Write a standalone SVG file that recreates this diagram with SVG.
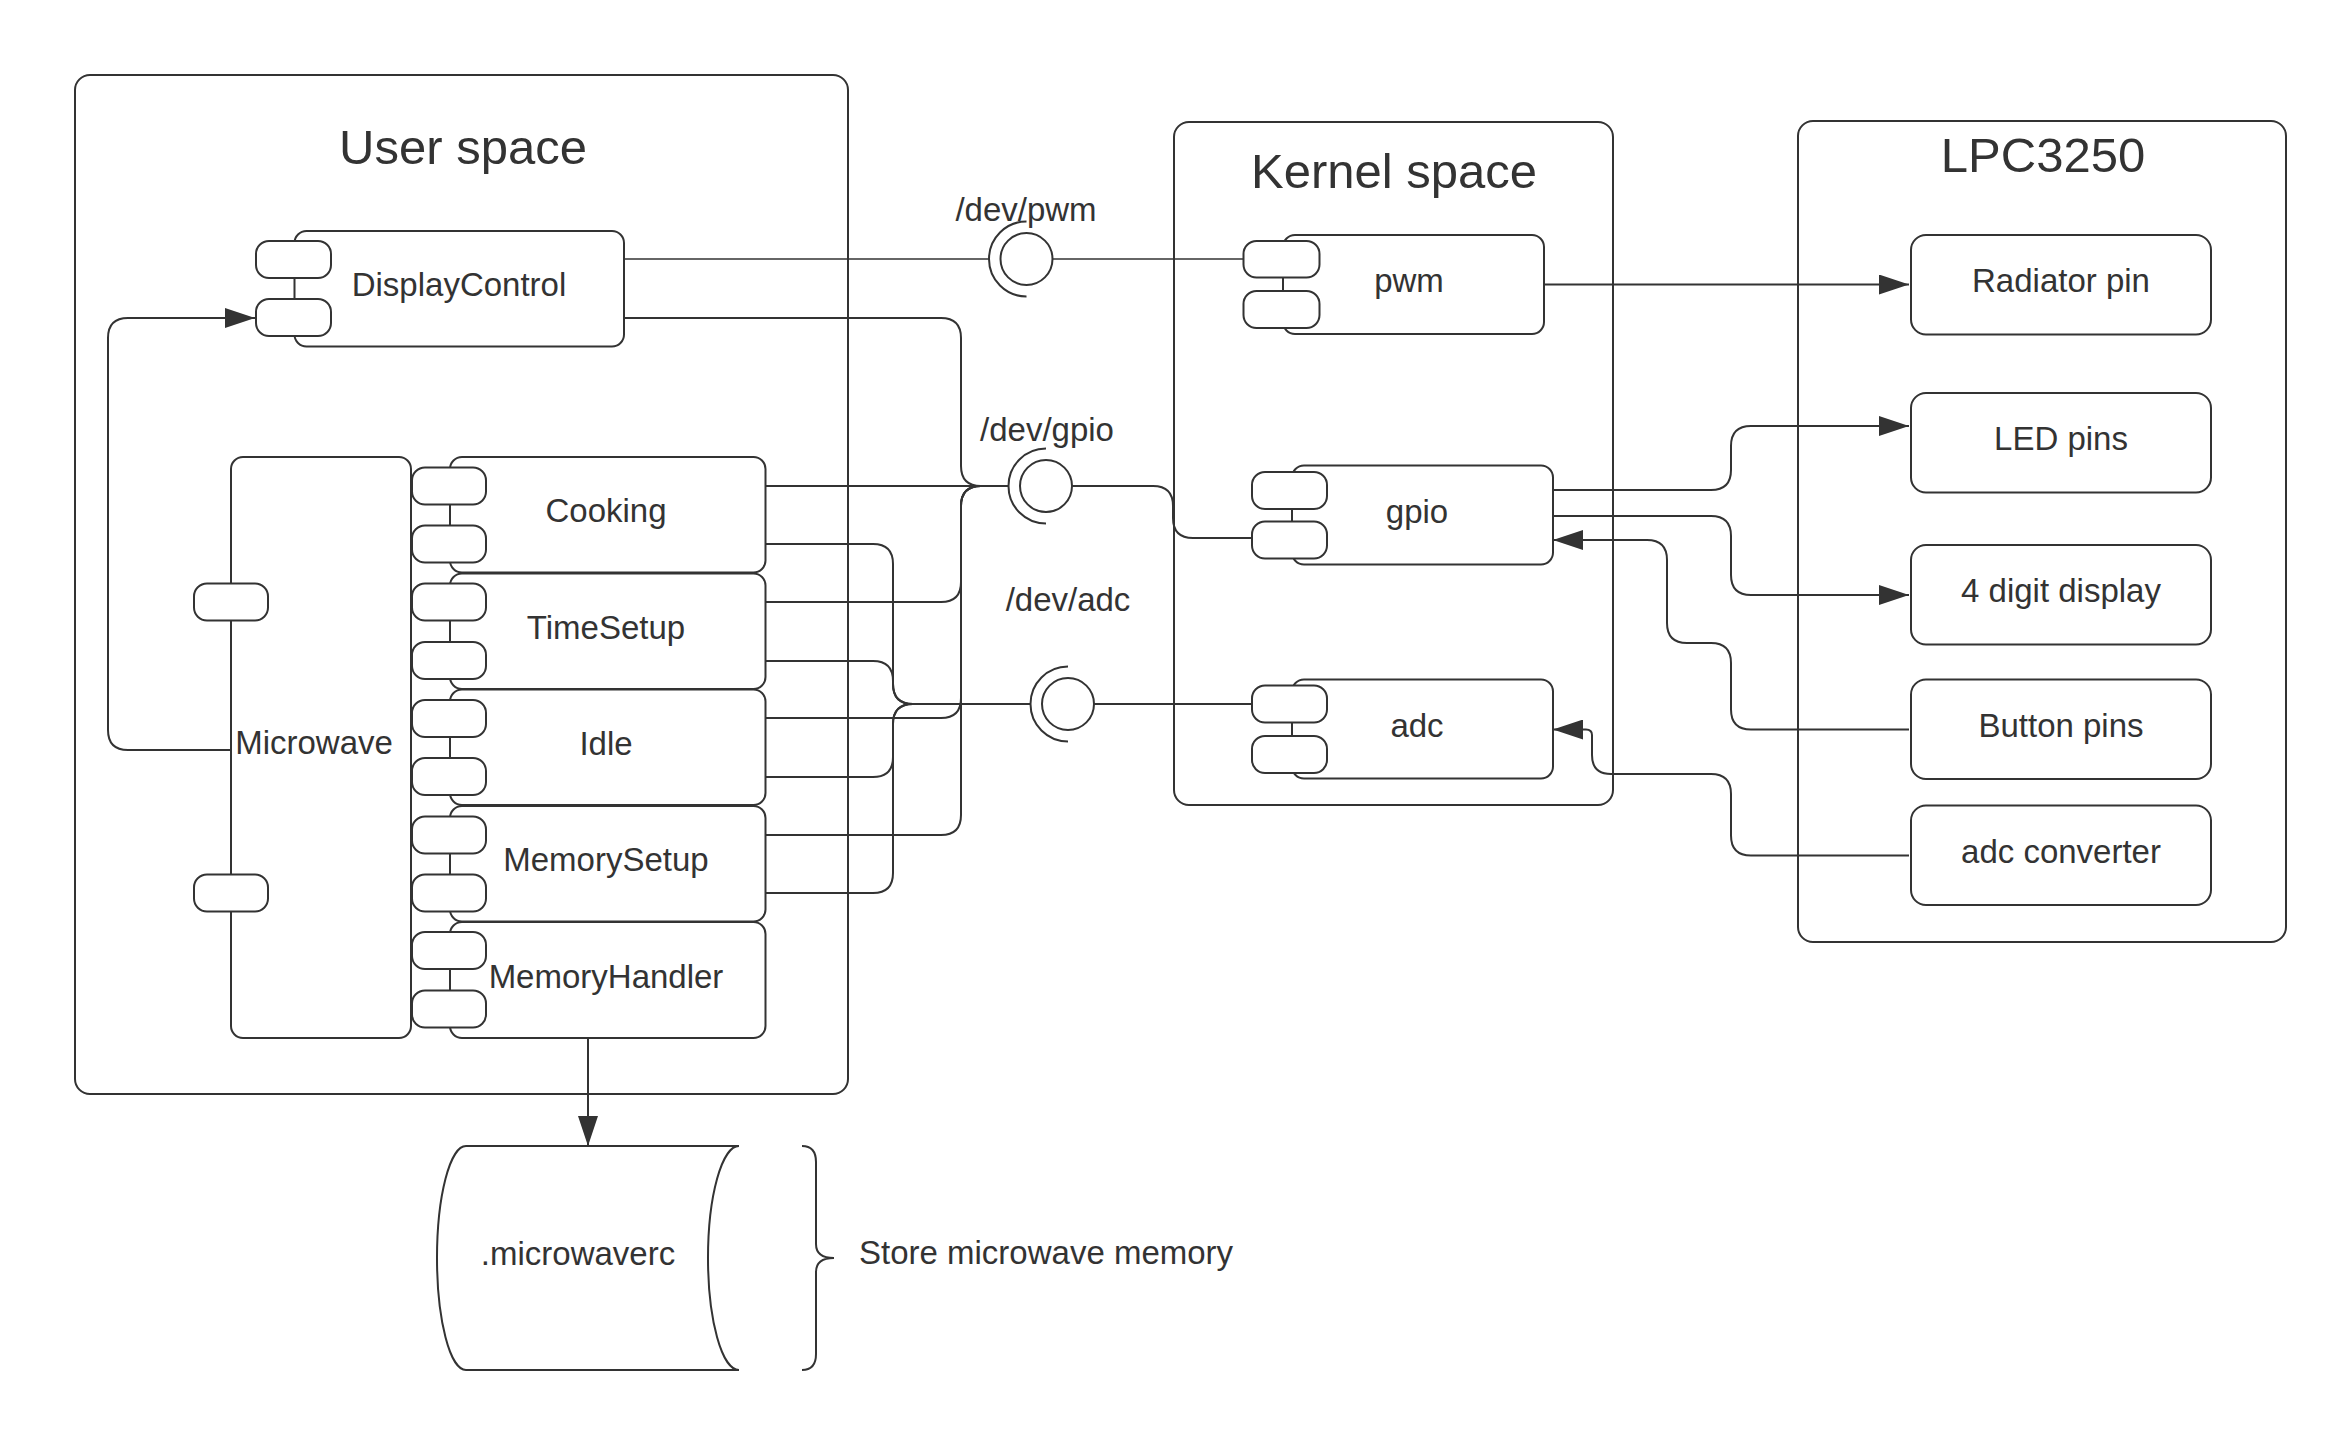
<svg xmlns="http://www.w3.org/2000/svg" width="2341" height="1446" viewBox="0 0 2341 1446">
<defs>
<style>
.box{fill:#fff;stroke:#333;stroke-width:2}
.cont{fill:none;stroke:#333;stroke-width:2}
.port{fill:#fff;stroke:#333;stroke-width:2}
.t{font-family:"Liberation Sans",Arial,sans-serif;font-size:33px;fill:#333;text-anchor:middle}
.title{font-family:"Liberation Sans",Arial,sans-serif;font-size:49px;fill:#333;text-anchor:middle}
.c{fill:none;stroke:#333;stroke-width:2}
.thin{fill:none;stroke:#333;stroke-width:1.5}
.arr{marker-end:url(#ah)}
</style>
<marker id="ah" markerUnits="userSpaceOnUse" markerWidth="30" markerHeight="20" viewBox="0 0 30 20" refX="30" refY="10" orient="auto">
<path d="M0,0 L30,10 L0,20 z" fill="#333"/>
</marker>
</defs>
<rect width="2341" height="1446" fill="#fff"/>

<!-- containers -->
<g id="user-space">
<rect class="cont" x="75" y="75" width="773" height="1019" rx="15"/>
<text class="title" x="463" y="164">User space</text>
</g>
<g id="kernel-space">
<rect class="cont" x="1174" y="122" width="439" height="683" rx="15"/>
<text class="title" x="1394" y="188">Kernel space</text>
</g>
<g id="lpc3250">
<rect class="cont" x="1798" y="121" width="488" height="821" rx="15"/>
<text class="title" x="2043" y="172">LPC3250</text>
</g>

<!-- connectors -->
<g id="connectors">
<path class="thin" d="M624,259 H989"/>
<path class="thin" d="M1053,259 H1243"/>
<path class="c" d="M624,318 H941 Q961,318 961,338 V466 Q961,486 981,486 H1008"/>
<path class="c" d="M766,486 H1008"/>
<path class="c" d="M766,602 H941 Q961,602 961,582 V506 Q961,486 981,486 H1008"/>
<path class="c" d="M766,718 H941 Q961,718 961,698 V506 Q961,486 981,486 H1008"/>
<path class="c" d="M766,835 H941 Q961,835 961,815 V506 Q961,486 981,486 H1008"/>
<path class="c" d="M766,544 H873 Q893,544 893,564 V684 Q893,704 913,704 H1030"/>
<path class="c" d="M766,661 H873 Q893,661 893,681 V684 Q893,704 913,704 H1030"/>
<path class="c" d="M766,777 H873 Q893,777 893,757 V724 Q893,704 913,704 H1030"/>
<path class="c" d="M766,893 H873 Q893,893 893,873 V724 Q893,704 913,704 H1030"/>
<path class="c" d="M1072,486 H1153 Q1173,486 1173,506 V518 Q1173,538 1193,538 H1252"/>
<path class="c" d="M1094,704 H1252"/>
<path class="c arr" d="M1544,284.5 H1909"/>
<path class="c arr" d="M1553,490 H1711 Q1731,490 1731,470 V446 Q1731,426 1751,426 H1909"/>
<path class="c arr" d="M1553,516 H1711 Q1731,516 1731,536 V575 Q1731,595 1751,595 H1909"/>
<path class="c arr" d="M1909,729.5 H1751 Q1731,729.5 1731,709.5 V663 Q1731,643 1711,643 H1687 Q1667,643 1667,623 V560 Q1667,540 1647,540 H1553"/>
<path class="c arr" d="M1909,855.5 H1751 Q1731,855.5 1731,835.5 V794 Q1731,774 1711,774 H1611 Q1592,774 1592,755 V735 Q1592,729.5 1586,729.5 H1553"/>
<path class="c arr" d="M231,750 H128 Q108,750 108,730 V338 Q108,318 128,318 H255"/>
<path class="c arr" d="M588,1038 V1146"/>
</g>

<!-- sockets -->
<g id="dev-pwm">
<circle class="c" cx="1026.5" cy="259" r="26"/>
<path class="c" d="M1026.5,221.5 A37.5,37.5 0 0 0 1026.5,296.5"/>
<text class="t" x="1026" y="221">/dev/pwm</text>
</g>
<g id="dev-gpio">
<circle class="c" cx="1046" cy="486" r="26"/>
<path class="c" d="M1046,448.5 A37.5,37.5 0 0 0 1046,523.5"/>
<text class="t" x="1047" y="441">/dev/gpio</text>
</g>
<g id="dev-adc">
<circle class="c" cx="1068" cy="704" r="26"/>
<path class="c" d="M1068,666.5 A37.5,37.5 0 0 0 1068,741.5"/>
<text class="t" x="1068" y="611">/dev/adc</text>
</g>

<!-- user space nodes -->
<g id="displaycontrol">
<rect class="box" x="294.5" y="231" width="329.5" height="115.5" rx="12"/>
<rect class="port" x="256" y="241" width="75" height="37" rx="13"/>
<rect class="port" x="256" y="299" width="75" height="37" rx="13"/>
<text class="t" x="459" y="296">DisplayControl</text>
</g>
<g id="microwave">
<rect class="box" x="231" y="457" width="180" height="581" rx="12"/>
<rect class="port" x="194" y="583.5" width="74" height="37" rx="13"/>
<rect class="port" x="194" y="874.5" width="74" height="37" rx="13"/>
<text class="t" x="314" y="754">Microwave</text>
</g>
<g id="cooking">
<rect class="box" x="450" y="457" width="315.5" height="115.5" rx="12"/>
<rect class="port" x="412" y="467.5" width="74" height="37" rx="13"/>
<rect class="port" x="412" y="525.5" width="74" height="37" rx="13"/>
<text class="t" x="606" y="522">Cooking</text>
</g>
<g id="timesetup">
<rect class="box" x="450" y="573.5" width="315.5" height="115.5" rx="12"/>
<rect class="port" x="412" y="583.5" width="74" height="37" rx="13"/>
<rect class="port" x="412" y="642" width="74" height="37" rx="13"/>
<text class="t" x="606" y="638.5">TimeSetup</text>
</g>
<g id="idle">
<rect class="box" x="450" y="689.5" width="315.5" height="115.5" rx="12"/>
<rect class="port" x="412" y="700" width="74" height="37" rx="13"/>
<rect class="port" x="412" y="758" width="74" height="37" rx="13"/>
<text class="t" x="606" y="754.5">Idle</text>
</g>
<g id="memorysetup">
<rect class="box" x="450" y="806" width="315.5" height="115.5" rx="12"/>
<rect class="port" x="412" y="816.5" width="74" height="37" rx="13"/>
<rect class="port" x="412" y="874.5" width="74" height="37" rx="13"/>
<text class="t" x="606" y="871">MemorySetup</text>
</g>
<g id="memoryhandler">
<rect class="box" x="450" y="922" width="315.5" height="116" rx="12"/>
<rect class="port" x="412" y="932" width="74" height="37" rx="13"/>
<rect class="port" x="412" y="990.5" width="74" height="37" rx="13"/>
<text class="t" x="606" y="987.5">MemoryHandler</text>
</g>

<!-- kernel nodes -->
<g id="pwm">
<rect class="box" x="1283" y="235" width="261" height="99" rx="12"/>
<rect class="port" x="1243.5" y="241" width="76" height="36.5" rx="13"/>
<rect class="port" x="1243.5" y="291" width="76" height="37" rx="13"/>
<text class="t" x="1409" y="292">pwm</text>
</g>
<g id="gpio">
<rect class="box" x="1292" y="465.5" width="261" height="99" rx="12"/>
<rect class="port" x="1252" y="472" width="75" height="37" rx="13"/>
<rect class="port" x="1252" y="521.5" width="75" height="37" rx="13"/>
<text class="t" x="1417" y="522.5">gpio</text>
</g>
<g id="adc">
<rect class="box" x="1292" y="679.5" width="261" height="99" rx="12"/>
<rect class="port" x="1252" y="685.5" width="75" height="37" rx="13"/>
<rect class="port" x="1252" y="736" width="75" height="37" rx="13"/>
<text class="t" x="1417" y="736.5">adc</text>
</g>

<!-- hardware nodes -->
<g id="radiator-pin">
<rect class="box" x="1911" y="235" width="300" height="99.5" rx="15"/>
<text class="t" x="2061" y="292">Radiator pin</text>
</g>
<g id="led-pins">
<rect class="box" x="1911" y="393" width="300" height="99.5" rx="15"/>
<text class="t" x="2061" y="450">LED pins</text>
</g>
<g id="four-digit-display">
<rect class="box" x="1911" y="545" width="300" height="99.5" rx="15"/>
<text class="t" x="2061" y="602">4 digit display</text>
</g>
<g id="button-pins">
<rect class="box" x="1911" y="679.5" width="300" height="99.5" rx="15"/>
<text class="t" x="2061" y="736.5">Button pins</text>
</g>
<g id="adc-converter">
<rect class="box" x="1911" y="805.5" width="300" height="99.5" rx="15"/>
<text class="t" x="2061" y="862.5">adc converter</text>
</g>

<!-- storage -->
<g id="microwaverc">
<path class="box" d="M466,1146 H739 A31,112 0 0 0 739,1370 H466 A29,112 0 0 1 466,1146 Z"/>
<text class="t" x="578" y="1265">.microwaverc</text>
</g>
<g id="store-note">
<path class="c" d="M802,1146 Q816,1146 816,1162 V1244 Q816,1258 834,1258 Q816,1258 816,1272 V1354 Q816,1370 802,1370"/>
<text class="t" x="859" y="1264" style="text-anchor:start">Store microwave memory</text>
</g>
</svg>
